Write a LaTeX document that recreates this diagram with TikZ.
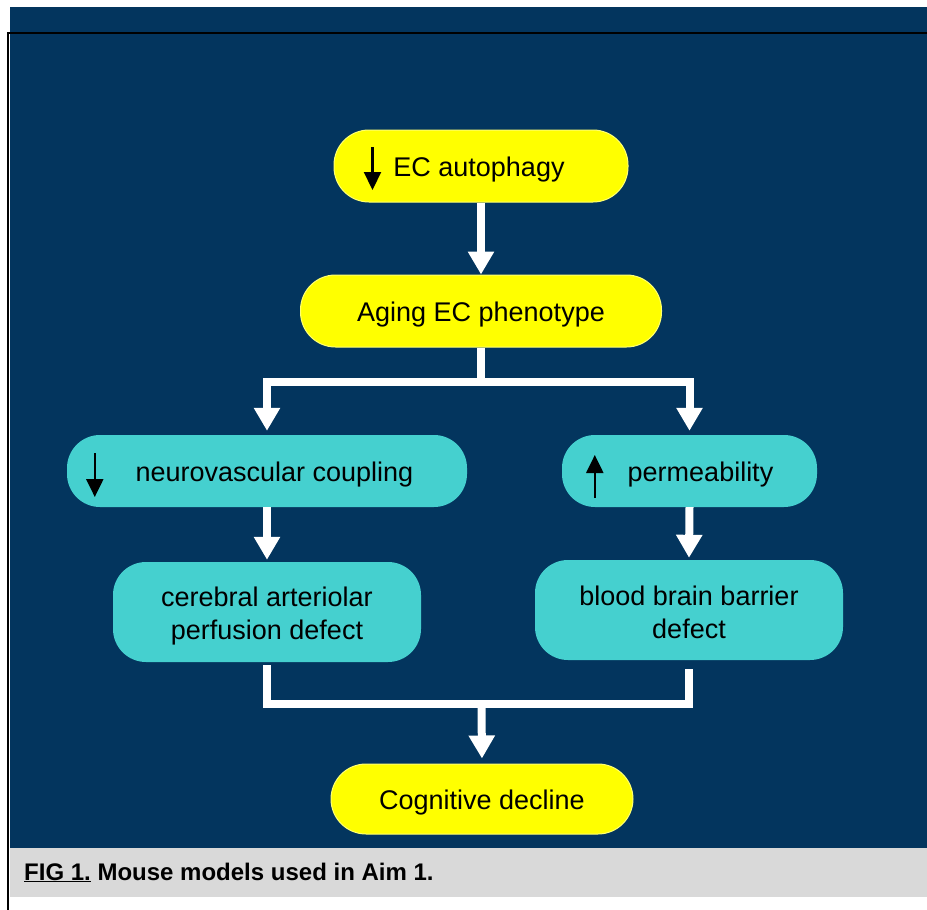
\documentclass[tikz,border=0pt]{standalone}
\usepackage{fontspec}
\setmainfont{Liberation Sans}
\usetikzlibrary{arrows.meta}
\definecolor{navy}{RGB}{3,53,94}
\definecolor{ecyellow}{RGB}{255,255,0}
\definecolor{boxteal}{RGB}{69,208,207}
\definecolor{capgrey}{RGB}{217,217,217}
\tikzset{
  ybox/.style={fill=ecyellow, draw=ecyellow!55!white, line width=1pt,
    rounded corners=35pt, inner sep=0pt, minimum height=72pt},
  tbox/.style={fill=boxteal, draw=none, rounded corners=33pt,
    inner sep=0pt},
  lbl/.style={anchor=base, inner sep=0pt, font=\fontsize{27}{32}\selectfont},
  flow/.style={draw=white, line width=8pt, line join=miter,
    -{Triangle[width=25pt,length=23pt]}},
  flowline/.style={draw=white, line width=8pt, line join=miter},
  updown/.style={draw=black, line width=2.2pt, -{Triangle[width=17pt,length=18pt]}}
}
\begin{document}
\begin{tikzpicture}[x=1pt,y=-1pt]
\useasboundingbox (0,0) rectangle (927,910);
\fill[white] (0,0) rectangle (927,910);
% panel background and caption band
\fill[navy] (10,7) rectangle (927,848);
\fill[capgrey] (10,848) rectangle (927,897);
\draw[black, line width=2.2pt] (8,910) -- (8,33) -- (927,33);

% boxes
\node[ybox, minimum width=294pt] (auto) at (481,166) {};
\node[ybox, minimum width=361pt] (aging) at (481,311) {};
\node[tbox, minimum width=400pt, minimum height=72pt] (neuro) at (267,471) {};
\node[tbox, minimum width=255pt, minimum height=72pt] (perm) at (689.5,471) {};
\node[tbox, minimum width=308pt, minimum height=100pt] (cereb) at (267,612) {};
\node[tbox, minimum width=308pt, minimum height=100pt] (bbb) at (689,610) {};
\node[ybox, minimum width=302pt, minimum height=70pt] (cog) at (482,799) {};

% box texts
\node[lbl] (tauto) at (479,176) {EC autophagy};
\node[lbl] (taging) at (481,321) {Aging EC phenotype};
\node[lbl] (tneuro) at (274.5,481) {neurovascular coupling};
\node[lbl] (tperm) at (700.5,481) {permeability};
\node[lbl] (tcereb1) at (267,606) {cerebral arteriolar};
\node[lbl] (tcereb2) at (267,639) {perfusion defect};
\node[lbl] (tbbb1) at (689,605) {blood brain barrier};
\node[lbl] (tbbb2) at (689,638) {defect};
\node[lbl] (tcog) at (482,809) {Cognitive decline};

% up/down markers inside boxes
\draw[updown] ([shift={(39,-19)}]auto.west) -- ([shift={(39,24)}]auto.west);
\draw[updown] ([shift={(28,-18)}]neuro.west) -- ([shift={(28,26)}]neuro.west);
\draw[updown] ([shift={(33,27)}]perm.west) -- ([shift={(33,-16)}]perm.west);

% connectors
\coordinate (split) at (481,382);
\coordinate (merge) at (481.5,704);
\draw[flow, shorten >=0pt] (auto.south) -- (aging.north);
\draw[flowline] (aging.south) -- (split);
\draw[flow, shorten >=4pt] (split) -| (neuro.north);
\draw[flow, shorten >=4pt] (split) -| (perm.north);
\draw[flow, shorten >=2pt] (neuro.south) -- (cereb.north);
\draw[flow, shorten >=2pt] (perm.south) -- (bbb.north);
\draw[flowline] ([yshift=-3pt]cereb.south) |- (merge) -| ([yshift=-9pt]bbb.south);
\draw[flow, shorten >=5pt] (merge) -- (cog.north);

% caption
\node[anchor=base west, inner sep=0pt, font=\bfseries\fontsize{24}{29}\selectfont] (cap)
  at (24,880) {\underline{FIG 1.} Mouse models used in Aim 1.};
\end{tikzpicture}
\end{document}
